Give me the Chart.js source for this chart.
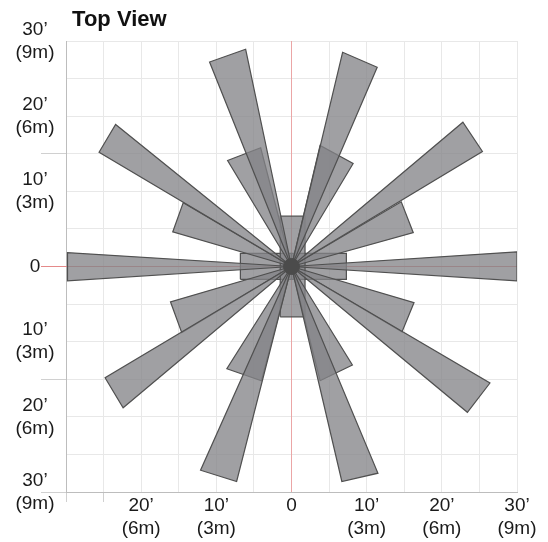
<!DOCTYPE html>
<html>
<head>
<meta charset="utf-8">
<script src="https://cdn.jsdelivr.net/npm/chart.js@4.4.1/dist/chart.umd.min.js"></script>
<style>
  html, body { margin: 0; padding: 0; background: #fff; }
  #wrap { width: 548px; height: 542px; }
</style>
</head>
<body>
<div id="wrap"><canvas id="topView"></canvas></div>
<script>
// detection pattern, in feet from the sensor (x: left/right, y: ahead/behind)
const feetTicks = [-30, -20, -10, 0, 10, 20, 30];
const feetLabels = ['30’', '20’', '10’', '0', '10’', '20’', '30’'];
const metreLabels = ['(9m)', '(6m)', '(3m)', '', '(3m)', '(6m)', '(9m)'];

// far corners of each long-range zone
const longZones = [
  [[30.0, 1.95], [30.0, -1.9]],
  [[-29.8, 1.85], [-29.8, -1.9]],
  [[-10.9, 27.2], [-6.1, 28.9]],
  [[6.8, 28.5], [11.4, 26.5]],
  [[-25.6, 15.2], [-23.4, 18.9]],
  [[22.8, 19.2], [25.4, 15.3]],
  [[-24.8, -14.8], [-22.4, -18.8]],
  [[26.4, -15.5], [23.4, -19.4]],
  [[-12.1, -27.1], [-7.3, -28.6]],
  [[11.5, -27.5], [6.7, -28.6]]
];

// far corners of each mid-range zone
const shortZones = [
  [[-8.5, 14.1], [-4.1, 15.8]],
  [[3.8, 16.1], [8.2, 13.7]],
  [[-15.8, 4.6], [-14.4, 8.5]],
  [[14.6, 8.6], [16.2, 4.5]],
  [[-16.1, -4.7], [-14.6, -8.8]],
  [[16.3, -4.8], [14.7, -8.7]],
  [[-8.6, -13.6], [-4.0, -15.2]],
  [[8.1, -13.1], [3.8, -15.2]]
];

// near zones around the unit: [xMin, xMax, yMin, yMax]
const nearBoxes = [
  [-1.5, 1.8, 0, 6.7],
  [-1.5, 1.8, -6.7, 0],
  [-6.8, 0, -1.7, 1.75],
  [0, 7.3, -1.7, 1.75]
];

// centre lines of the pattern
const centreLineX = [{ x: 0, y: -30 }, { x: 0, y: 30 }];
const centreLineY = [{ x: -30, y: 0 }, { x: 30, y: 0 }];

const sensorPoint = [{ x: 0, y: 0 }];

const zoneFill = 'rgba(132, 132, 135, 0.77)';
const zoneEdge = '#505050';
const axisRedH = '#e58a8a';
const axisRedV = '#eba6a6';
const gridGrey = '#e8e8e8';

// closed outline
function polygonDataset (pts) {
  return {
    data: pts.concat([pts[0]]),
    showLine: true,
    fill: 'shape',
    backgroundColor: zoneFill,
    borderColor: zoneEdge,
    borderWidth: 1.2,
    pointRadius: 0,
    tension: 0
  };
}

// wedge from the sensor out to two far corners
function zoneDataset (corners) {
  const pts = [{ x: 0, y: 0 }];
  corners.forEach(c => pts.push({ x: c[0], y: c[1] }));
  return polygonDataset(pts);
}

function boxDataset (b) {
  return polygonDataset([
    { x: b[0], y: b[2] }, { x: b[0], y: b[3] },
    { x: b[1], y: b[3] }, { x: b[1], y: b[2] }
  ]);
}

function lineDataset (pts, colour) {
  return {
    data: pts,
    showLine: true,
    fill: false,
    borderColor: colour,
    borderWidth: 1,
    pointRadius: 0
  };
}

function labelFor (value) {
  const i = feetTicks.indexOf(value);
  if (i < 0) return '';
  return metreLabels[i] ? [feetLabels[i], metreLabels[i]] : feetLabels[i];
}

function isZero (c) {
  return !!c.tick && Math.abs(c.tick.value) < 1e-9;
}

// first dataset is drawn last (on top)
const datasets = [
  {
    data: sensorPoint,
    pointRadius: 8,
    backgroundColor: '#4b4b4b',
    borderColor: '#4b4b4b',
    showLine: false
  }
];
longZones.forEach(z => datasets.push(zoneDataset(z)));
shortZones.forEach(z => datasets.push(zoneDataset(z)));
nearBoxes.forEach(b => datasets.push(boxDataset(b)));
datasets.push(lineDataset(centreLineY, axisRedH));
datasets.push(lineDataset(centreLineX, axisRedV));

const tickFont = { family: 'Liberation Sans, Arial, sans-serif', size: 19, lineHeight: 1.21 };

new Chart(document.getElementById('topView'), {
  type: 'scatter',
  data: { datasets: datasets },
  options: {
    responsive: true,
    maintainAspectRatio: false,
    animation: false,
    layout: { padding: { top: 0, right: 31, bottom: 0, left: 0 } },
    plugins: {
      legend: { display: false },
      tooltip: { enabled: false },
      title: {
        display: true,
        text: ' Top View',
        align: 'start',
        fullSize: false,
        color: '#111',
        font: { family: 'Liberation Sans, Arial, sans-serif', size: 22, weight: 'bold', lineHeight: 1.2 },
        padding: { top: 6.5, bottom: 8.1 }
      }
    },
    scales: {
      x: {
        type: 'linear',
        min: -30,
        max: 30,
        afterFit: s => { s.height = 50; },
        border: { color: '#bdbdbd', width: 1 },
        grid: {
          color: gridGrey,
          tickLength: 10,
          tickColor: c => (c.tick && c.tick.value <= -25 ? '#d0d0d0' : 'rgba(0,0,0,0)')
        },
        ticks: {
          stepSize: 5,
          autoSkip: false,
          maxRotation: 0,
          padding: -7.5,
          color: '#1a1a1a',
          font: tickFont,
          callback: v => (v === -30 ? '' : labelFor(v))
        }
      },
      y: {
        type: 'linear',
        min: -30,
        max: 30,
        afterFit: s => { s.width = 66; },
        border: { color: '#bdbdbd', width: 1 },
        grid: {
          color: gridGrey,
          tickLength: 25,
          tickColor: c => {
            const v = c.tick && c.tick.value;
            if (isZero(c)) return axisRedH;
            if (v === 15 || v === -15 || v === -30) return '#d0d0d0';
            return 'rgba(0,0,0,0)';
          }
        },
        ticks: {
          stepSize: 5,
          autoSkip: false,
          crossAlign: 'center',
          padding: -13.5,
          color: '#1a1a1a',
          font: tickFont,
          callback: v => labelFor(v)
        }
      }
    }
  }
});
</script>
</body>
</html>
